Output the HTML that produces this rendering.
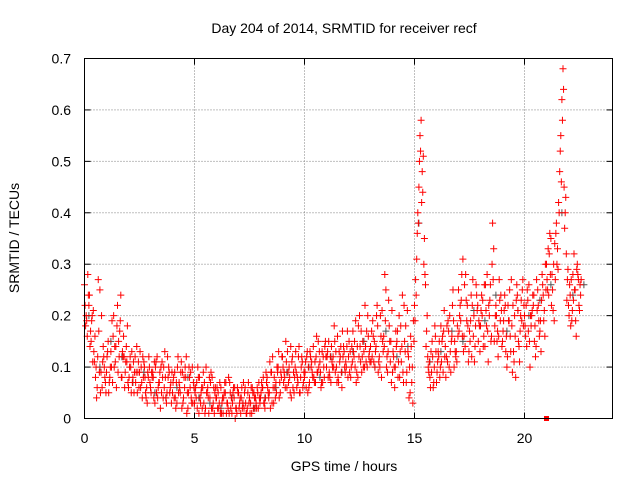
<!DOCTYPE html>
<html><head><meta charset="utf-8"><style>
body{margin:0;background:#fff;}
svg{display:block;font-family:"Liberation Sans",sans-serif;}
</style></head><body>
<svg id="chart" width="640" height="480" viewBox="0 0 640 480">
<text x="344" y="33" text-anchor="middle" font-size="14" fill="#000">Day 204 of 2014, SRMTID for receiver recf</text>
<text x="344" y="471" text-anchor="middle" font-size="14">GPS time / hours</text>
<text transform="translate(19,238) rotate(-90)" text-anchor="middle" font-size="14">SRMTID / TECUs</text>
<g id="grid"></g>
<g id="axes"></g>
<g id="marks"></g>
<rect x="84.5" y="58.5" width="528" height="360" fill="none" stroke="#000"/>
</svg>
<script>
const xTicks=[0,5,10,15,20];
const yTicks=[0,0.1,0.2,0.3,0.4,0.5,0.6,0.7];
const yTickLabels=["0","0.1","0.2","0.3","0.4","0.5","0.6","0.7"];
const seriesA=[0.26,0.19,0.22,0.15,0.21,0.08,0.12,0.25,0.06,0.10,
0.09,0.05,0.13,0.16,0.11,0.22,0.17,0.08,0.12,0.14,
0.06,0.10,0.08,0.12,0.05,0.09,0.07,0.11,0.04,0.08,
0.06,0.09,0.03,0.12,0.07,0.05,0.10,0.04,0.08,0.06,
0.05,0.09,0.03,0.07,0.11,0.04,0.08,0.02,0.06,0.10,
0.03,0.07,0.01,0.05,0.09,0.02,0.06,0.04,0.08,0.01,
0.04,0.02,0.06,0.01,0.05,0.03,0.07,0.01,0.04,0.02,
0.05,0.01,0.03,0.06,0.02,0.04,0.01,0.05,0.03,0.02,
0.04,0.06,0.02,0.08,0.05,0.09,0.03,0.07,0.10,0.05,
0.12,0.08,0.06,0.10,0.04,0.09,0.13,0.07,0.05,0.11,
0.08,0.12,0.06,0.10,0.14,0.07,0.09,0.11,0.13,0.08,
0.10,0.15,0.07,0.12,0.09,0.16,0.11,0.06,0.13,0.10,
0.12,0.08,0.17,0.10,0.14,0.20,0.09,0.13,0.11,0.16,
0.14,0.19,0.10,0.22,0.12,0.08,0.16,0.25,0.13,0.11,
0.09,0.06,0.15,0.20,0.11,0.07,0.18,0.13,0.05,0.10,
0.22,0.31,0.45,0.58,0.51,0.26,0.12,0.08,0.15,0.10,
0.07,0.12,0.18,0.09,0.14,0.11,0.20,0.16,0.10,0.13,
0.25,0.19,0.31,0.14,0.22,0.17,0.12,0.20,0.26,0.15,
0.18,0.23,0.14,0.28,0.20,0.16,0.33,0.22,0.12,0.19,
0.15,0.24,0.10,0.19,0.27,0.13,0.08,0.21,0.17,0.25,
0.20,0.14,0.26,0.18,0.22,0.12,0.25,0.17,0.28,0.21,
0.30,0.24,0.35,0.21,0.27,0.33,0.48,0.62,0.45,0.32,
0.22,0.18,0.28,0.25,0.30,0.21];
const seriesB=[0.18,0.28,0.14,0.20,0.11,0.04,0.17,0.09,0.14,0.07,
0.13,0.08,0.19,0.10,0.06,0.15,0.24,0.12,0.09,0.18,
0.10,0.13,0.05,0.09,0.11,0.06,0.12,0.08,0.03,0.10,
0.09,0.04,0.11,0.06,0.02,0.08,0.13,0.05,0.09,0.03,
0.08,0.02,0.12,0.05,0.09,0.06,0.01,0.10,0.04,0.07,
0.06,0.10,0.04,0.02,0.07,0.05,0.01,0.09,0.03,0.06,
0.02,0.07,0.03,0.05,0.01,0.08,0.02,0.05,0.00,0.06,
0.03,0.06,0.02,0.01,0.07,0.03,0.05,0.02,0.06,0.04,
0.07,0.03,0.09,0.05,0.02,0.12,0.06,0.10,0.04,0.08,
0.07,0.15,0.09,0.05,0.12,0.08,0.06,0.14,0.10,0.07,
0.11,0.05,0.13,0.09,0.07,0.16,0.10,0.06,0.12,0.15,
0.13,0.08,0.11,0.18,0.10,0.07,0.14,0.12,0.09,0.17,
0.09,0.14,0.12,0.07,0.18,0.11,0.15,0.22,0.10,0.13,
0.17,0.11,0.14,0.09,0.20,0.15,0.28,0.12,0.18,0.07,
0.12,0.17,0.08,0.13,0.24,0.15,0.09,0.04,0.14,0.19,
0.27,0.40,0.55,0.48,0.35,0.17,0.09,0.13,0.06,0.16,
0.11,0.08,0.15,0.21,0.12,0.17,0.09,0.25,0.13,0.18,
0.20,0.28,0.16,0.23,0.11,0.19,0.27,0.14,0.21,0.18,
0.24,0.16,0.21,0.11,0.26,0.38,0.18,0.15,0.27,0.21,
0.19,0.13,0.22,0.16,0.09,0.20,0.26,0.14,0.23,0.18,
0.16,0.23,0.10,0.21,0.15,0.27,0.19,0.13,0.24,0.30,
0.25,0.36,0.28,0.19,0.38,0.42,0.55,0.68,0.40,0.27,
0.26,0.19,0.32,0.16,0.27,0.24];
const seriesC=[0.22,0.16,0.24,0.19,0.13,0.10,0.27,0.05,0.11,0.08,
0.12,0.07,0.10,0.20,0.14,0.09,0.19,0.13,0.06,0.11,
0.08,0.05,0.11,0.07,0.09,0.13,0.04,0.10,0.06,0.12,
0.05,0.08,0.10,0.04,0.09,0.11,0.06,0.03,0.10,0.07,
0.07,0.04,0.10,0.06,0.02,0.08,0.12,0.05,0.09,0.03,
0.05,0.02,0.08,0.06,0.03,0.10,0.04,0.07,0.02,0.05,
0.06,0.03,0.01,0.04,0.07,0.02,0.05,0.03,0.06,0.01,
0.02,0.04,0.07,0.03,0.05,0.01,0.06,0.04,0.02,0.07,
0.05,0.08,0.04,0.06,0.11,0.03,0.08,0.05,0.13,0.09,
0.10,0.06,0.13,0.08,0.11,0.05,0.09,0.12,0.08,0.06,
0.09,0.13,0.07,0.11,0.08,0.12,0.15,0.09,0.07,0.14,
0.12,0.09,0.14,0.10,0.13,0.08,0.12,0.17,0.10,0.14,
0.15,0.10,0.13,0.19,0.08,0.14,0.12,0.10,0.17,0.12,
0.11,0.16,0.13,0.18,0.10,0.21,0.14,0.10,0.23,0.15,
0.13,0.10,0.17,0.08,0.14,0.22,0.07,0.12,0.16,0.03,
0.19,0.36,0.50,0.42,0.30,0.14,0.10,0.06,0.12,0.18,
0.09,0.15,0.11,0.17,0.08,0.19,0.13,0.22,0.15,0.11,
0.17,0.23,0.13,0.28,0.18,0.15,0.22,0.11,0.24,0.19,
0.21,0.14,0.26,0.17,0.23,0.30,0.15,0.20,0.16,0.24,
0.17,0.22,0.12,0.25,0.18,0.11,0.23,0.15,0.20,0.27,
0.18,0.25,0.15,0.20,0.24,0.14,0.22,0.19,0.26,0.16,
0.27,0.32,0.22,0.30,0.36,0.29,0.52,0.58,0.37,0.23,
0.20,0.27,0.23,0.19,0.28,0.26];
const seriesD=[0.20,0.24,0.17,0.11,0.16,0.06,0.09,0.20,0.12,0.05,
0.15,0.10,0.07,0.14,0.18,0.12,0.08,0.16,0.11,0.07,
0.12,0.07,0.09,0.14,0.06,0.10,0.08,0.05,0.09,0.07,
0.08,0.11,0.05,0.07,0.10,0.04,0.08,0.12,0.05,0.09,
0.04,0.07,0.05,0.09,0.03,0.10,0.05,0.08,0.03,0.06,
0.04,0.08,0.03,0.06,0.01,0.05,0.08,0.02,0.06,0.04,
0.05,0.01,0.04,0.07,0.03,0.01,0.04,0.06,0.02,0.05,
0.04,0.02,0.05,0.01,0.03,0.06,0.02,0.04,0.05,0.03,
0.06,0.03,0.07,0.04,0.09,0.06,0.04,0.09,0.07,0.12,
0.09,0.11,0.07,0.14,0.06,0.10,0.08,0.05,0.12,0.09,
0.06,0.10,0.12,0.08,0.11,0.09,0.13,0.07,0.10,0.12,
0.08,0.12,0.10,0.15,0.07,0.13,0.09,0.14,0.11,0.08,
0.13,0.11,0.15,0.09,0.12,0.17,0.10,0.14,0.20,0.11,
0.12,0.15,0.20,0.11,0.16,0.13,0.19,0.09,0.15,0.21,
0.10,0.14,0.11,0.18,0.09,0.13,0.21,0.10,0.07,0.15,
0.24,0.38,0.52,0.44,0.28,0.20,0.11,0.09,0.07,0.13,
0.13,0.10,0.16,0.12,0.18,0.10,0.15,0.19,0.12,0.16,
0.22,0.16,0.26,0.19,0.13,0.24,0.16,0.18,0.22,0.13,
0.20,0.26,0.18,0.22,0.15,0.27,0.20,0.17,0.23,0.14,
0.21,0.16,0.19,0.13,0.22,0.16,0.24,0.11,0.19,0.22,
0.22,0.17,0.20,0.24,0.18,0.21,0.16,0.23,0.19,0.25,
0.33,0.28,0.25,0.34,0.30,0.40,0.46,0.64,0.43,0.29,
0.24,0.21,0.25,0.29,0.22,0.27];
const seriesGray=[0.2,0.1,0.15,0.12,0.07,0.09,0.05,0.04,0.06,0.08,0.04,0.03,0.02,0.04,0.03,0.02,0.04,0.06,0.09,0.07,0.10,0.08,0.12,0.09,0.13,0.15,0.10,0.17,0.12,0.14,0.38,0.11,0.13,0.17,0.15,0.21,0.19,0.24,0.17,0.21,0.20,0.23,0.26,0.40,0.24,0.26];
const NS="http://www.w3.org/2000/svg";
const X0=84.5,X1=612.5,Y0=418.5,Y1=58.5,XMAX=24,YMAX=0.7;
function xs(t){return X0+(X1-X0)*t/XMAX;}
function ys(v){return Y0-(Y0-Y1)*v/YMAX;}
function mk(tag,attrs,parent){const e=document.createElementNS(NS,tag);for(const k in attrs)e.setAttribute(k,attrs[k]);parent.appendChild(e);return e;}
const grid=document.getElementById('grid'),axes=document.getElementById('axes'),marks=document.getElementById('marks');
xTicks.forEach((t,i)=>{const x=xs(t);
 if(t>0){const g=mk('line',{x1:x,x2:x,y1:Y1,y2:Y0,stroke:'#808080','stroke-dasharray':'1,2'},grid);
 
 }
 mk('line',{x1:x,x2:x,y1:Y0,y2:Y0-6,stroke:'#000'},axes);
 mk('line',{x1:x,x2:x,y1:Y1,y2:Y1+6,stroke:'#000'},axes);
 const l=mk('text',{x:x,y:443,'text-anchor':'middle','font-size':'14'},axes);l.textContent=String(t);
 
 
});
yTicks.forEach((v,i)=>{const y=ys(v);
 if(v>0&&v<YMAX){const g=mk('line',{x1:X0,x2:X1,y1:y,y2:y,stroke:'#808080','stroke-dasharray':'1,2'},grid);
 
 }
 mk('line',{x1:X0,x2:X0+6,y1:y,y2:y,stroke:'#000'},axes);
 mk('line',{x1:X1,x2:X1-6,y1:y,y2:y,stroke:'#000'},axes);
 const l=mk('text',{x:71,y:y+5,'text-anchor':'end','font-size':'14'},axes);l.textContent=yTickLabels[i];
 
 
});
function plus(t,v,col,name){const x=xs(t),y=ys(v);
 const p=mk('path',{d:`M${x-3.5},${y}H${x+3.5}M${x},${y-3.5}V${y+3.5}`,stroke:col,'stroke-width':1,fill:'none'},marks);
 
 
}
seriesGray.forEach((v,i)=>plus(i*0.5+0.2,v,'#505050','gray-point'));
seriesA.forEach((v,i)=>plus(i*0.1,v,'#ff0000','red-point'));
seriesB.forEach((v,i)=>plus(i*0.1+0.05,v,'#ff0000','red-point'));
seriesC.forEach((v,i)=>plus(i*0.1+0.025,v,'#ff0000','red-point'));
seriesD.forEach((v,i)=>plus(i*0.1+0.075,v,'#ff0000','red-point'));
const sq=mk('rect',{x:xs(21)-2.5,y:ys(0)-2.5,width:5,height:5,fill:'#ff0000'},marks);


</script>
</body></html>
